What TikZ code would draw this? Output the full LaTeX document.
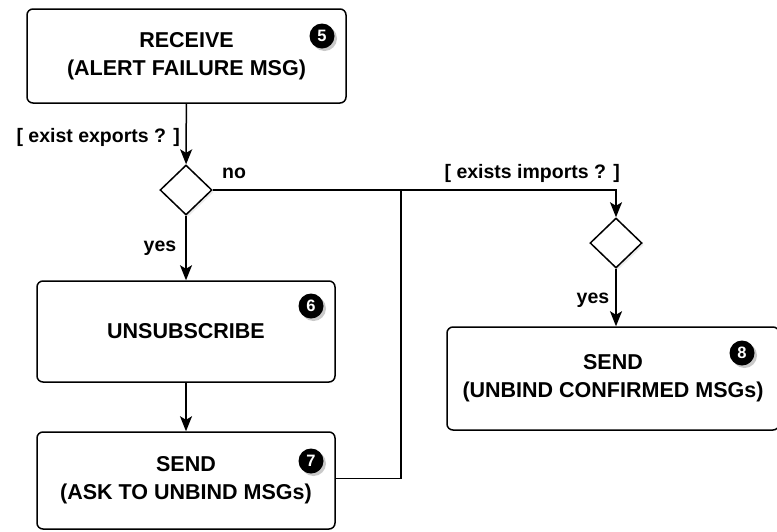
\documentclass[tikz,border=0pt]{standalone}
\usepackage{fontspec}
\setmainfont{Liberation Sans}
\usetikzlibrary{shapes.geometric,arrows.meta,shadows}
\tikzset{
  box/.style={draw=black, line width=1.5pt, rounded corners=6pt, fill=white, align=center,
    font=\fontsize{21.5}{28}\selectfont\bfseries, inner sep=0pt},
  dec/.style={draw=black, line width=1.5pt, diamond, fill=white, inner sep=0pt,
    minimum width=52pt, minimum height=50pt},
  badge/.style={circle, fill=black, text=white, inner sep=0pt, minimum size=25pt,
    font=\fontsize{16.5}{16.5}\selectfont\bfseries,
    drop shadow={shadow xshift=2.5pt, shadow yshift=-2.5pt, opacity=0.35, fill=black!60}},
  lbl/.style={font=\fontsize{19.5}{22}\selectfont\bfseries, inner sep=0pt},
  conn/.style={line width=1.5pt, draw=black},
  arr/.style={conn, -{Stealth[length=15pt, width=12pt, inset=3.5pt]}}
}
\begin{document}
\begin{tikzpicture}[x=1pt, y=-1pt]
\useasboundingbox (0,0) rectangle (777,531);
% boxes
\node[box, minimum width=319pt, minimum height=94pt] (b5) at (186.5,56) {RECEIVE\\(ALERT FAILURE MSG)};
\node[box, minimum width=298pt, minimum height=101pt] (b6) at (186,331.5) {UNSUBSCRIBE};
\node[box, minimum width=298pt, minimum height=97pt] (b7) at (186,480.5) {SEND\\(ASK TO UNBIND MSGs)};
\node[box, minimum width=332pt, minimum height=103pt] (b8) at (613,378.5) {SEND\\(UNBIND CONFIRMED MSGs)};
% decisions
\node[dec, drop shadow={shadow xshift=2pt, shadow yshift=-2pt, opacity=0.15}] (d1) at (186,190) {};
\node[dec, drop shadow={shadow xshift=2pt, shadow yshift=-2pt, opacity=0.15}] (d2) at (616,243) {};
% badges
\node[badge] (n5) at (322,36) {5};
\node[badge] (n6) at (311,306) {6};
\node[badge] (n7) at (311,461) {7};
\node[badge] (n8) at (742,353) {8};
% junction
\coordinate (j) at (401,190);
% connectors
\draw[arr] (b5) -- (d1);
\draw[arr] (d1) -- (b6);
\draw[arr] (b6) -- (b7);
\draw[arr] (d1.east) -| (d2.north);
\draw[conn] ([yshift=2pt]b7.east) -| (j);
\draw[arr] (d2.south) -- (d2.south |- b8.north);
% labels
\node[lbl, anchor=east] (l1) at (180,137) {[ exist exports ? ]};
\node[lbl] (l2) at (234,173) {no};
\node[lbl] (l3) at (160,248) {yes};
\node[lbl, anchor=east] (l4) at (620,173) {[ exists imports ? ]};
\node[lbl] (l5) at (593,300) {yes};
\end{tikzpicture}
\end{document}
